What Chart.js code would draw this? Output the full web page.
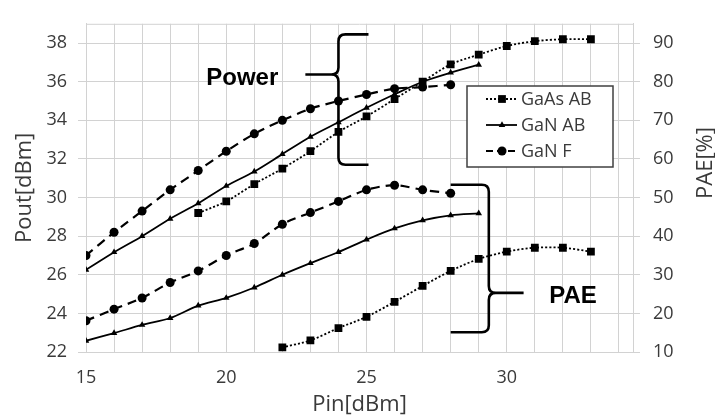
<!DOCTYPE html>
<html>
<head>
<meta charset="utf-8">
<script src="https://cdn.jsdelivr.net/npm/chart.js@4/dist/chart.umd.min.js"></script>
<style>
  body { margin: 0; background: #fff; }
  #wrap { width: 715px; height: 419px; }
</style>
</head>
<body>
<div id="wrap"><canvas id="chart" width="715" height="419"></canvas></div>
<script>
// Pin values [dBm] for each curve
const pinGaAsPout = [19, 20, 21, 22, 23, 24, 25, 26, 27, 28, 29, 30, 31, 32, 33];
const pinGaNAbPout = [15, 16, 17, 18, 19, 20, 21, 22, 23, 24, 25, 26, 27, 28, 29];
const pinGaNFPout = [15, 16, 17, 18, 19, 20, 21, 22, 23, 24, 25, 26, 27, 28];
const pinGaAsPae = [22, 23, 24, 25, 26, 27, 28, 29, 30, 31, 32, 33];
const pinGaNAbPae = [15, 16, 17, 18, 19, 20, 21, 22, 23, 24, 25, 26, 27, 28, 29];
const pinGaNFPae = [15, 16, 17, 18, 19, 20, 21, 22, 23, 24, 25, 26, 27, 28];

// Pout [dBm]
const gaasPout = [29.2, 29.8, 30.7, 31.5, 32.4, 33.4, 34.2, 35.1, 36.0, 36.9, 37.4, 37.85, 38.1, 38.2, 38.2];
const ganAbPout = [26.26, 27.17, 28.0, 28.9, 29.7, 30.6, 31.35, 32.25, 33.15, 33.9, 34.65, 35.35, 36.0, 36.47, 36.88];
const ganFPout = [27.0, 28.2, 29.3, 30.4, 31.4, 32.4, 33.3, 34.0, 34.6, 35.0, 35.34, 35.64, 35.72, 35.84];

// PAE [%]
const gaasPae = [11.2, 13.0, 16.2, 19.1, 23.0, 27.1, 31.0, 34.1, 36.0, 37.0, 37.0, 36.0];
const ganAbPae = [12.9, 14.9, 17.0, 18.8, 22.0, 24.0, 26.7, 30.0, 33.0, 35.9, 39.1, 42.0, 44.1, 45.4, 45.9];
const ganFPae = [18.1, 21.1, 24.0, 28.0, 31.0, 35.0, 38.1, 43.1, 46.1, 49.0, 52.0, 53.2, 52.0, 51.1];

const seriesNames = ["GaAs AB", "GaN AB", "GaN F"];
const xTicks = [15, 16, 17, 18, 19, 20, 21, 22, 23, 24, 25, 26, 27, 28, 29, 30, 31, 32, 33, 34];
const poutTicks = [22, 24, 26, 28, 30, 32, 34, 36, 38];
const paeTicks = [10, 20, 30, 40, 50, 60, 70, 80, 90];

const font = "'Open Sans', sans-serif";
const textColor = "#3a3a3a";
const gridColor = "#d2d2d2";

const styles = [
    { pointStyle: "rect", pointRadius: 5.5, borderDash: [2, 2], borderWidth: 1.8 },
    { pointStyle: "triangle", pointRadius: 3.8, borderDash: [], borderWidth: 1.8 },
    { pointStyle: "circle", pointRadius: 4.5, borderDash: [9, 6], borderWidth: 2.2 }
];

function pts(xs, ys) {
    return xs.map((x, i) => ({ x: x, y: ys[i] }));
}

function makeSet(i, data, axis) {
    return {
        label: seriesNames[i],
        data: data,
        yAxisID: axis,
        borderColor: "#000",
        backgroundColor: "#000",
        pointBackgroundColor: "#000",
        pointBorderColor: "#000",
        pointBorderWidth: 0,
        pointStyle: styles[i].pointStyle,
        pointRadius: styles[i].pointRadius,
        borderDash: styles[i].borderDash,
        borderWidth: styles[i].borderWidth,
        tension: 0.3
    };
}

function drawBrace(ctx, xs, yTop, yBot, yTip, armX, leadX) {
    const d = Math.sign(armX - xs);
    const r = 7;
    ctx.beginPath();
    ctx.moveTo(armX, yTop);
    ctx.lineTo(xs + d * r, yTop);
    ctx.quadraticCurveTo(xs, yTop, xs, yTop + r);
    ctx.lineTo(xs, yTip - r);
    ctx.quadraticCurveTo(xs, yTip, xs - d * r, yTip);
    ctx.lineTo(leadX, yTip);
    ctx.moveTo(xs - d * r, yTip);
    ctx.quadraticCurveTo(xs, yTip, xs, yTip + r);
    ctx.lineTo(xs, yBot - r);
    ctx.quadraticCurveTo(xs, yBot, xs + d * r, yBot);
    ctx.lineTo(armX, yBot);
    ctx.stroke();
}

const extras = {
    id: "extras",
    afterDraw(chart) {
        const ctx = chart.ctx;
        const area = chart.chartArea;
        const sx = chart.scales.x, sy = chart.scales.y, sy2 = chart.scales.y2;
        ctx.save();

        // top border of plot
        ctx.strokeStyle = gridColor;
        ctx.lineWidth = 1;
        ctx.beginPath();
        ctx.moveTo(area.left, area.top + 0.5);
        ctx.lineTo(area.right, area.top + 0.5);
        ctx.stroke();

        // right axis title
        ctx.fillStyle = textColor;
        ctx.font = "22px " + font;
        ctx.textAlign = "center";
        ctx.textBaseline = "middle";
        ctx.translate(706, 163);
        ctx.rotate(-Math.PI / 2);
        ctx.fillText("PAE[%]", 0, 0);
        ctx.setTransform(1, 0, 0, 1, 0, 0);

        // braces and labels
        ctx.strokeStyle = "#000";
        ctx.lineWidth = 2.6;
        drawBrace(ctx, sx.getPixelForValue(24.0), sy.getPixelForValue(38.45), sy.getPixelForValue(31.7),
            sy.getPixelForValue(36.37), sx.getPixelForValue(25.07), sx.getPixelForValue(22.82));
        drawBrace(ctx, sx.getPixelForValue(29.36), sy2.getPixelForValue(53.3), sy2.getPixelForValue(15.1),
            sy2.getPixelForValue(25.3), sx.getPixelForValue(28.0), sx.getPixelForValue(30.6));

        ctx.fillStyle = "#000";
        ctx.font = "bold 24px 'Liberation Sans', Arial, sans-serif";
        ctx.fillText("Power", sx.getPixelForValue(20.57), sy.getPixelForValue(36.17));
        ctx.fillText("PAE", sx.getPixelForValue(32.36), sy2.getPixelForValue(24.3));

        // legend box
        const bx = 467, by = 86, bw = 146, bh = 81;
        ctx.fillStyle = "#fff";
        ctx.fillRect(bx, by, bw, bh);
        ctx.strokeStyle = "#404040";
        ctx.lineWidth = 1.5;
        ctx.strokeRect(bx, by, bw, bh);
        const rows = [99, 125, 151];
        ctx.font = "18px " + font;
        ctx.textAlign = "left";
        for (let i = 0; i < 3; i++) {
            const y = rows[i];
            ctx.strokeStyle = "#000";
            ctx.lineWidth = styles[i].borderWidth;
            ctx.setLineDash(i === 2 ? [7, 4] : styles[i].borderDash);
            ctx.beginPath();
            ctx.moveTo(486, y);
            ctx.lineTo(517, y);
            ctx.stroke();
            ctx.setLineDash([]);
            ctx.fillStyle = "#000";
            Chart.helpers.drawPoint(ctx, {
                pointStyle: styles[i].pointStyle,
                radius: styles[i].pointRadius,
                rotation: 0,
                borderWidth: 0
            }, 502, y);
            ctx.fillStyle = textColor;
            ctx.fillText(seriesNames[i], 521, y + 1);
        }
        ctx.restore();
    }
};

new Chart(document.getElementById("chart"), {
    type: "line",
    data: {
        datasets: [
            makeSet(0, pts(pinGaAsPout, gaasPout), "y"),
            makeSet(1, pts(pinGaNAbPout, ganAbPout), "y"),
            makeSet(2, pts(pinGaNFPout, ganFPout), "y"),
            makeSet(0, pts(pinGaAsPae, gaasPae), "y2"),
            makeSet(1, pts(pinGaNAbPae, ganAbPae), "y2"),
            makeSet(2, pts(pinGaNFPae, ganFPae), "y2")
        ]
    },
    options: {
        responsive: false,
        animation: false,
        layout: { padding: { top: 9, left: 0, right: 0, bottom: 0 } },
        plugins: {
            legend: { display: false },
            tooltip: { enabled: false }
        },
        scales: {
            x: {
                type: "linear",
                min: 15,
                max: 34.5,
                afterBuildTicks: s => { s.ticks = xTicks.map(v => ({ value: v })); },
                afterFit: s => { s.height = 67; },
                grid: { color: gridColor, drawTicks: false },
                border: { color: gridColor },
                ticks: {
                    autoSkip: false,
                    maxRotation: 0,
                    padding: 15,
                    color: textColor,
                    font: { family: font, size: 18 },
                    callback: v => (v % 5 === 0 ? v : "")
                },
                title: {
                    display: true,
                    text: "Pin[dBm]",
                    color: textColor,
                    font: { family: font, size: 22 },
                    padding: { top: 0, bottom: 1 }
                }
            },
            y: {
                position: "left",
                min: 22,
                max: 39,
                afterBuildTicks: s => { s.ticks = poutTicks.map(v => ({ value: v })); },
                afterFit: s => { s.width = 86; },
                grid: { color: gridColor, tickLength: 8 },
                border: { color: gridColor },
                ticks: {
                    padding: 11,
                    color: textColor,
                    font: { family: font, size: 18 }
                },
                title: {
                    display: true,
                    text: "Pout[dBm]",
                    color: textColor,
                    font: { family: font, size: 22 },
                    padding: { top: 12, bottom: 0 }
                }
            },
            y2: {
                position: "right",
                min: 10,
                max: 95,
                afterBuildTicks: s => { s.ticks = paeTicks.map(v => ({ value: v })); },
                afterFit: s => { s.width = 82; },
                grid: { color: gridColor, tickLength: 7, drawOnChartArea: false },
                border: { color: gridColor },
                ticks: {
                    padding: 13,
                    color: textColor,
                    font: { family: font, size: 18 }
                }
            }
        }
    },
    plugins: [extras]
});
</script>
</body>
</html>
